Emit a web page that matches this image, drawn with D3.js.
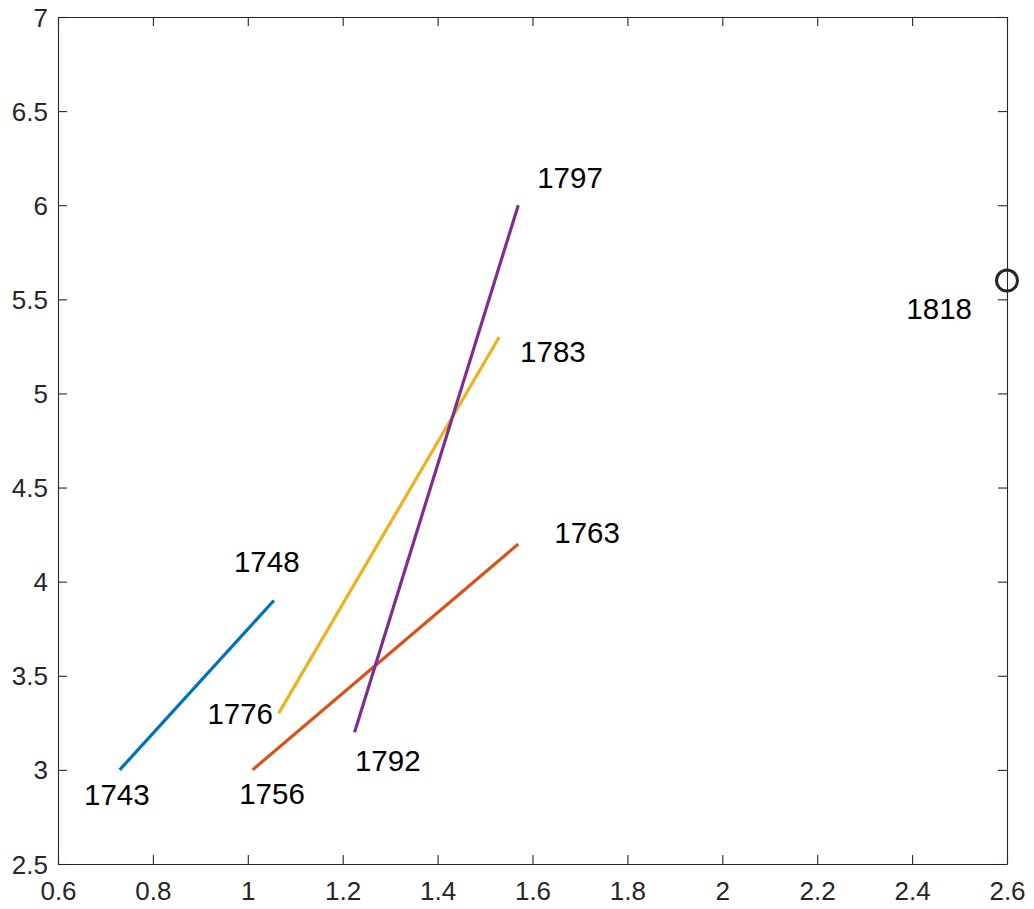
<!DOCTYPE html>
<html>
<head>
<meta charset="utf-8">
<script src="https://cdn.jsdelivr.net/npm/d3@7"></script>
<style>
  html, body { margin: 0; padding: 0; background: #fff; }
  svg { display: block; font-family: Arial, "Liberation Sans", Helvetica, sans-serif; }
</style>
</head>
<body>
<svg id="chart" width="1034" height="909"></svg>
<script>
// ---- data ----
const segYears   = ["1743-1748", "1756-1763", "1776-1783", "1792-1797"];
const segX1      = [0.73, 1.01, 1.065, 1.225];
const segY1      = [3.0, 3.0, 3.3, 3.2];
const segX2      = [1.055, 1.57, 1.53, 1.57];
const segY2      = [3.9, 4.2, 5.3, 6.0];
const segColors  = ["#0072BD", "#D95319", "#EDB120", "#7E2F8E"];

const pointX = [2.6];
const pointY = [5.6];

const labelText = ["1743", "1748", "1756", "1763", "1776", "1783", "1792", "1797", "1818"];
const labelX    = [0.724, 1.040, 1.051, 1.715, 0.984, 1.643, 1.295, 1.679, 2.457];
const labelY    = [2.861, 4.099, 2.866, 4.253, 3.291, 5.215, 3.041, 6.139, 5.443];

const xTicks = [0.6, 0.8, 1, 1.2, 1.4, 1.6, 1.8, 2, 2.2, 2.4, 2.6];
const yTicks = [2.5, 3, 3.5, 4, 4.5, 5, 5.5, 6, 6.5, 7];

// ---- layout ----
const L = 58, R = 1007, T = 17, B = 864;
const axisColor = "#262626";
const svg = d3.select("#chart");
svg.append("rect").attr("width", 1034).attr("height", 909).attr("fill", "#fff");

const x = d3.scaleLinear().domain([0.6, 2.6]).range([L, R]);
const y = d3.scaleLinear().domain([2.5, 7]).range([B, T]);

const fmt = d => String(d);

// axes (ticks inward), plus mirrored top/right
const tickLen = 9;
const gB = svg.append("g").attr("transform", `translate(0,${B})`)
  .call(d3.axisBottom(x).tickValues(xTicks).tickFormat(fmt).tickSizeInner(-tickLen).tickSizeOuter(0).tickPadding(18));
const gT = svg.append("g").attr("transform", `translate(0,${T})`)
  .call(d3.axisTop(x).tickValues(xTicks).tickFormat("").tickSizeInner(-tickLen).tickSizeOuter(0));
const gL = svg.append("g").attr("transform", `translate(${L},0)`)
  .call(d3.axisLeft(y).tickValues(yTicks).tickFormat(fmt).tickSizeInner(-tickLen).tickSizeOuter(0).tickPadding(10));
const gR = svg.append("g").attr("transform", `translate(${R},0)`)
  .call(d3.axisRight(y).tickValues(yTicks).tickFormat("").tickSizeInner(-tickLen).tickSizeOuter(0));

[gB, gT, gL, gR].forEach(g => {
  g.select(".domain").attr("stroke", axisColor).attr("stroke-width", 1.1);
  g.selectAll(".tick line").attr("stroke", axisColor).attr("stroke-width", 1.1);
  g.selectAll(".tick text").attr("fill", axisColor).attr("font-size", 26)
   .attr("font-family", "Arial, 'Liberation Sans', sans-serif");
});
gB.selectAll(".tick text").attr("dy", "0.71em");
gL.selectAll(".tick text").attr("dy", "0.35em");

// segments
const segs = segYears.map((k, i) => ({ k, x1: segX1[i], y1: segY1[i], x2: segX2[i], y2: segY2[i], c: segColors[i] }));
svg.append("g").selectAll("line.seg").data(segs).join("line")
  .attr("class", "seg")
  .attr("x1", d => x(d.x1)).attr("y1", d => y(d.y1))
  .attr("x2", d => x(d.x2)).attr("y2", d => y(d.y2))
  .attr("stroke", d => d.c).attr("stroke-width", 3.2);

// point
svg.append("g").selectAll("circle").data(pointX.map((v, i) => ({ x: v, y: pointY[i] }))).join("circle")
  .attr("cx", d => x(d.x)).attr("cy", d => y(d.y)).attr("r", 10.5)
  .attr("fill", "none").attr("stroke", axisColor).attr("stroke-width", 3);

// labels
svg.append("g").selectAll("text").data(labelText.map((t, i) => ({ t, x: labelX[i], y: labelY[i] }))).join("text")
  .attr("x", d => x(d.x)).attr("y", d => y(d.y))
  .attr("dy", "0.3em")
  .attr("text-anchor", "middle")
  .attr("font-size", 29.5)
  .attr("fill", "#000")
  .text(d => d.t);
</script>
</body>
</html>
